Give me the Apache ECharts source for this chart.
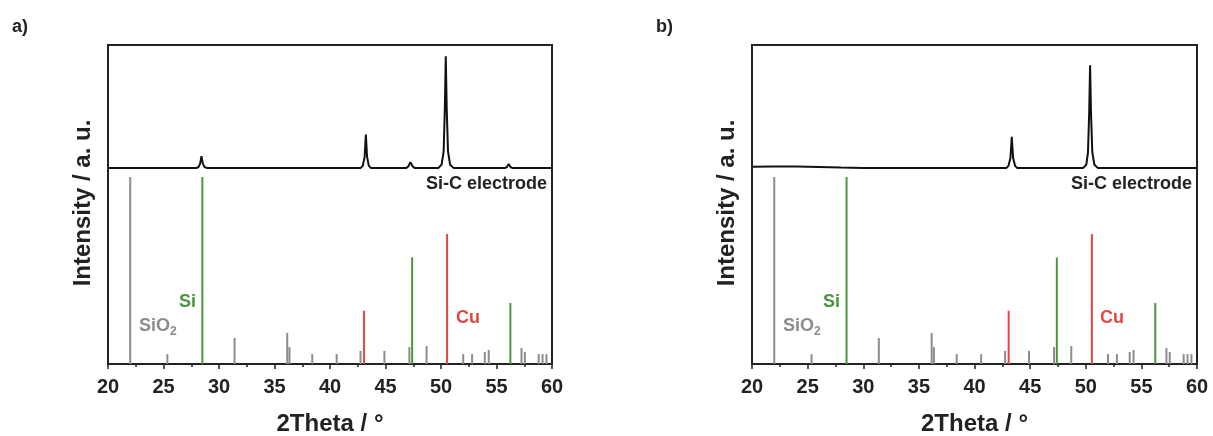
<!DOCTYPE html>
<html>
<head>
<meta charset="utf-8">
<title>XRD Si-C electrode</title>
<script src="https://cdn.jsdelivr.net/npm/echarts@6/dist/echarts.min.js"></script>
<style>
  html, body { margin: 0; padding: 0; background: #fff; }
  #main { width: 1213px; height: 436px; }
</style>
</head>
<body>
<div id="main"></div>
<script>
// x axis ticks
var xTicks = [20, 25, 30, 35, 40, 45, 50, 55, 60];

// reference patterns (2Theta, relative intensity)
var sticksSiO2 = [[22.0, 100], [25.35, 5.3], [31.4, 13.9], [36.15, 16.6], [36.35, 9.1], [38.4, 5.3],
  [40.6, 5.3], [42.75, 7], [44.9, 7], [47.15, 9.1], [48.7, 9.6], [52.0, 5.3], [52.8, 5.3],
  [53.95, 6.4], [54.3, 7.5], [57.25, 8.5], [57.55, 6.4], [58.8, 5.3], [59.15, 5.3], [59.5, 5.3]];
var sticksSi = [[28.5, 100], [47.4, 57], [56.25, 32.6]];
var sticksCu = [[43.07, 28.5], [50.55, 69.5]];

// measured Si-C electrode patterns
var traceA = [[20, 0], [27.95, 0], [28.15, 1], [28.3, 4], [28.42, 10.7], [28.54, 4], [28.7, 1], [28.95, 0],
  [42.75, 0], [42.95, 2], [43.12, 10], [43.23, 30], [43.34, 10], [43.5, 2], [43.7, 0],
  [46.85, 0], [47.05, 1.5], [47.25, 5.4], [47.45, 1.5], [47.65, 0],
  [49.75, 0], [50.05, 3], [50.24, 15], [50.35, 55], [50.43, 100], [50.51, 55], [50.63, 15], [50.82, 3], [51.15, 0],
  [55.75, 0], [55.95, 1.2], [56.1, 3.6], [56.25, 1.2], [56.45, 0], [60, 0]];
var traceB = [[20, 1.3], [22, 1.5], [24, 1.4], [26, 1.0], [28, 0.5], [30, 0.2], [33, 0],
  [42.85, 0], [43.05, 2], [43.23, 9], [43.35, 28], [43.47, 9], [43.65, 2], [43.85, 0],
  [49.75, 0], [50.05, 3], [50.2, 14], [50.31, 50], [50.39, 92], [50.47, 50], [50.59, 14], [50.78, 3], [51.1, 0],
  [60, 0]];

var FONT = 'Liberation Sans, Arial, sans-serif';
var C_GRAY = '#8c8c8c', C_GREEN = '#4a963c', C_RED = '#e2463e', C_DARK = '#222';

var myChart = echarts.init(document.getElementById('main'));

var panels = [
  { left: 108, width: 444, trace: traceA, tag: 'a)' },
  { left: 752, width: 445, trace: traceB, tag: 'b)' }
];
var TOP = 45, BOTTOM = 72;

function stickSeries(data, color, idx) {
  return {
    type: 'custom',
    xAxisIndex: idx,
    yAxisIndex: idx * 2,
    data: data,
    silent: true,
    renderItem: function (params, api) {
      var p0 = api.coord([api.value(0), 0]);
      var p1 = api.coord([api.value(0), api.value(1)]);
      return {
        type: 'line',
        shape: { x1: p0[0], y1: p0[1], x2: p1[0], y2: p1[1] },
        style: { stroke: color, lineWidth: 2 }
      };
    }
  };
}

var grid = [], xAxis = [], yAxis = [], series = [], graphic = [];
panels.forEach(function (p, i) {
  grid.push({
    left: p.left, width: p.width, top: TOP, bottom: BOTTOM,
    outerBoundsMode: 'none', containLabel: false,
    show: true, borderColor: C_DARK, borderWidth: 2, backgroundColor: 'transparent'
  });
  xAxis.push({
    type: 'value', gridIndex: i, min: xTicks[0], max: xTicks[xTicks.length - 1], interval: 5,
    axisLine: { lineStyle: { color: C_DARK, width: 2 } },
    axisTick: { inside: false, length: 5, lineStyle: { color: C_DARK, width: 1.5 } },
    minorTick: { show: true, splitNumber: 2, length: 3, lineStyle: { color: C_DARK, width: 1.5 } },
    splitLine: { show: false },
    axisLabel: { color: '#222', fontFamily: FONT, fontSize: 20, fontWeight: 'bold', margin: 13 },
    name: '2Theta / °', nameLocation: 'middle', nameGap: 48,
    nameTextStyle: { color: '#222', fontFamily: FONT, fontSize: 24, fontWeight: 'bold' }
  });
  // sticks axis
  yAxis.push({ type: 'value', gridIndex: i, min: 0, max: 170.6, show: false });
  // trace axis
  yAxis.push({ type: 'value', gridIndex: i, min: -175, max: 110, show: false });

  series.push(stickSeries(sticksSiO2, C_GRAY, i));
  series.push(stickSeries(sticksSi, C_GREEN, i));
  series.push(stickSeries(sticksCu, C_RED, i));
  series.push({
    type: 'line', xAxisIndex: i, yAxisIndex: i * 2 + 1, data: p.trace,
    showSymbol: false, silent: true,
    lineStyle: { color: '#111', width: 2 }
  });

  var L = p.left, R = p.left + p.width;
  graphic.push(
    { type: 'text', left: L - 96, top: 18, style: { text: p.tag, font: 'bold 18px ' + FONT, fill: '#222' } },
    { type: 'text', x: L - 25, y: 203, rotation: Math.PI / 2,
      style: { text: 'Intensity / a. u.', font: 'bold 24px ' + FONT, fill: '#222',
        textAlign: 'center', textVerticalAlign: 'middle' } },
    { type: 'text', x: L + 31, y: 326,
      style: { text: '{n|SiO}{s|2}', textVerticalAlign: 'middle', fill: C_GRAY,
        rich: { n: { fontSize: 18, fontWeight: 'bold', fontFamily: FONT, fill: C_GRAY },
                s: { fontSize: 12, fontWeight: 'bold', fontFamily: FONT, fill: C_GRAY, padding: [12, 0, 0, 0] } } } },
    { type: 'text', x: L + 71, y: 302,
      style: { text: 'Si', font: 'bold 18px ' + FONT, fill: C_GREEN, textVerticalAlign: 'middle' } },
    { type: 'text', x: L + 348, y: 318,
      style: { text: 'Cu', font: 'bold 18px ' + FONT, fill: C_RED, textVerticalAlign: 'middle' } },
    { type: 'text', x: R - 5, y: 184,
      style: { text: 'Si-C electrode', font: 'bold 18px ' + FONT, fill: '#222', textAlign: 'right', textVerticalAlign: 'middle' } }
  );
});

var option = {
  animation: false,
  backgroundColor: '#fff',
  grid: grid,
  xAxis: xAxis,
  yAxis: yAxis,
  series: series,
  graphic: graphic
};
myChart.setOption(option);
</script>
</body>
</html>
